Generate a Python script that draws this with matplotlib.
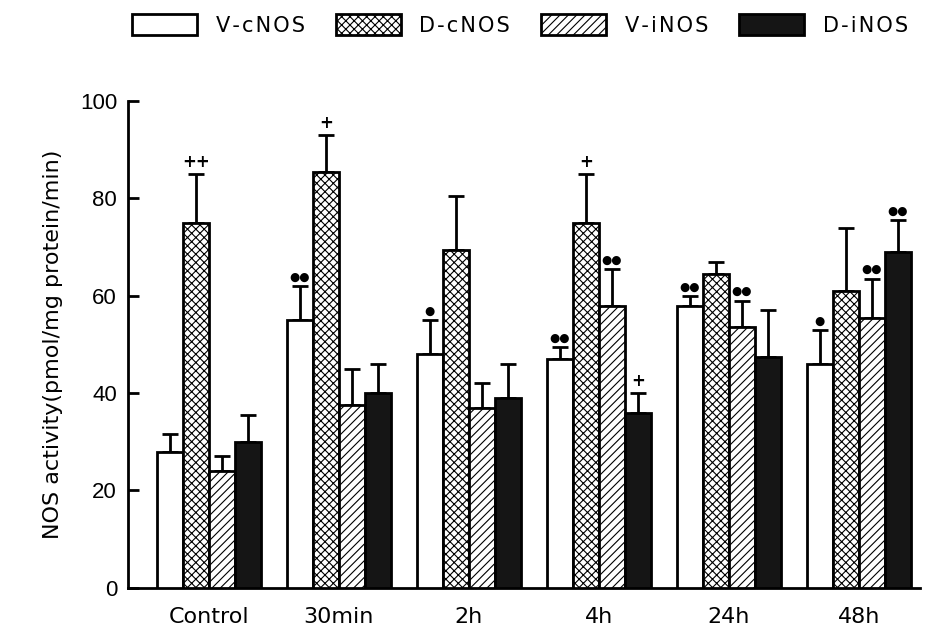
import numpy as np
import matplotlib.pyplot as plt

plt.rcParams['font.family'] = ['Liberation Sans', 'DejaVu Sans']
plt.rcParams['hatch.linewidth'] = 0.8

groups = ['Control', '30min', '2h', '4h', '24h', '48h']
series = ['V-cNOS', 'D-cNOS', 'V-iNOS', 'D-iNOS']

# mean values per series (one per group)
v_cnos = [28, 55, 48, 47, 58, 46]
d_cnos = [75, 85.5, 69.5, 75, 64.5, 61]
v_inos = [24, 37.5, 37, 58, 53.5, 55.5]
d_inos = [30, 40, 39, 36, 47.5, 69]

# upper error (SD)
v_cnos_err = [3.5, 7, 7, 2.5, 2, 7]
d_cnos_err = [10, 7.5, 11, 10, 2.5, 13]
v_inos_err = [3, 7.5, 5, 7.5, 5.5, 8]
d_inos_err = [5.5, 6, 7, 4, 9.5, 6.5]

# significance marks above error bars
v_cnos_sig = ['', '●●', '●', '●●', '●●', '●']
d_cnos_sig = ['++', '+', '', '+', '', '']
v_inos_sig = ['', '', '', '●●', '●●', '●●']
d_inos_sig = ['', '', '', '+', '', '●●']

values = [v_cnos, d_cnos, v_inos, d_inos]
errors = [v_cnos_err, d_cnos_err, v_inos_err, d_inos_err]
marks = [v_cnos_sig, d_cnos_sig, v_inos_sig, d_inos_sig]
faces = ['white', 'white', 'white', '#151515']
hatches = [None, 'xxxx', '////', None]

fig = plt.figure(figsize=(9.36, 6.32), dpi=100)
ax = fig.add_axes([0.137, 0.07, 0.846, 0.77])

x = np.arange(len(groups))
w = 0.2
handles = []
for i in range(4):
    pos = x + (i - 1.5) * w
    b = ax.bar(pos, values[i], w, color=faces[i], edgecolor='black',
               linewidth=2, hatch=hatches[i], label=series[i], zorder=3)
    handles.append(b)
    ax.errorbar(pos, values[i], yerr=[np.zeros(len(x)), errors[i]],
                fmt='none', ecolor='black', elinewidth=2, capsize=5.5,
                capthick=2, zorder=2)
    for p, v, e, m in zip(pos, values[i], errors[i], marks[i]):
        if not m:
            continue
        if '+' in m:
            ax.text(p, v + e + 0.6, m, ha='center', va='bottom',
                    fontsize=12, fontweight='bold', family='DejaVu Sans')
        else:
            ax.text(p, v + e + 0.5, m, ha='center', va='bottom',
                    fontsize=8.5, family='DejaVu Sans')

ax.set_xlim(-0.62, 5.47)
ax.set_ylim(0, 100)
ax.set_yticks([0, 20, 40, 60, 80, 100])
ax.set_xticks(x)
ax.set_xticklabels(groups, fontsize=16, family='DejaVu Sans')
ax.tick_params(axis='y', direction='in', length=8, width=2, labelsize=16, pad=8)
ax.tick_params(axis='x', length=0, pad=14)
ax.spines['top'].set_visible(False)
ax.spines['right'].set_visible(False)
ax.spines['left'].set_linewidth(2)
ax.spines['bottom'].set_linewidth(2)
ax.set_ylabel('NOS activity(pmol/mg protein/min)', fontsize=16,
              family='DejaVu Sans', labelpad=12)

# legend labels with a little letter spacing
spaced = ['\u200a'.join(s) for s in series]
fig.legend(handles=handles, labels=spaced, loc='center',
           bbox_to_anchor=(0.5556, 0.961), ncol=4, frameon=False,
           prop={'family': 'DejaVu Sans', 'size': 15},
           handlelength=3.1, handleheight=1.2, columnspacing=1.5,
           handletextpad=0.9)

fig.savefig('out.png', dpi=100)
